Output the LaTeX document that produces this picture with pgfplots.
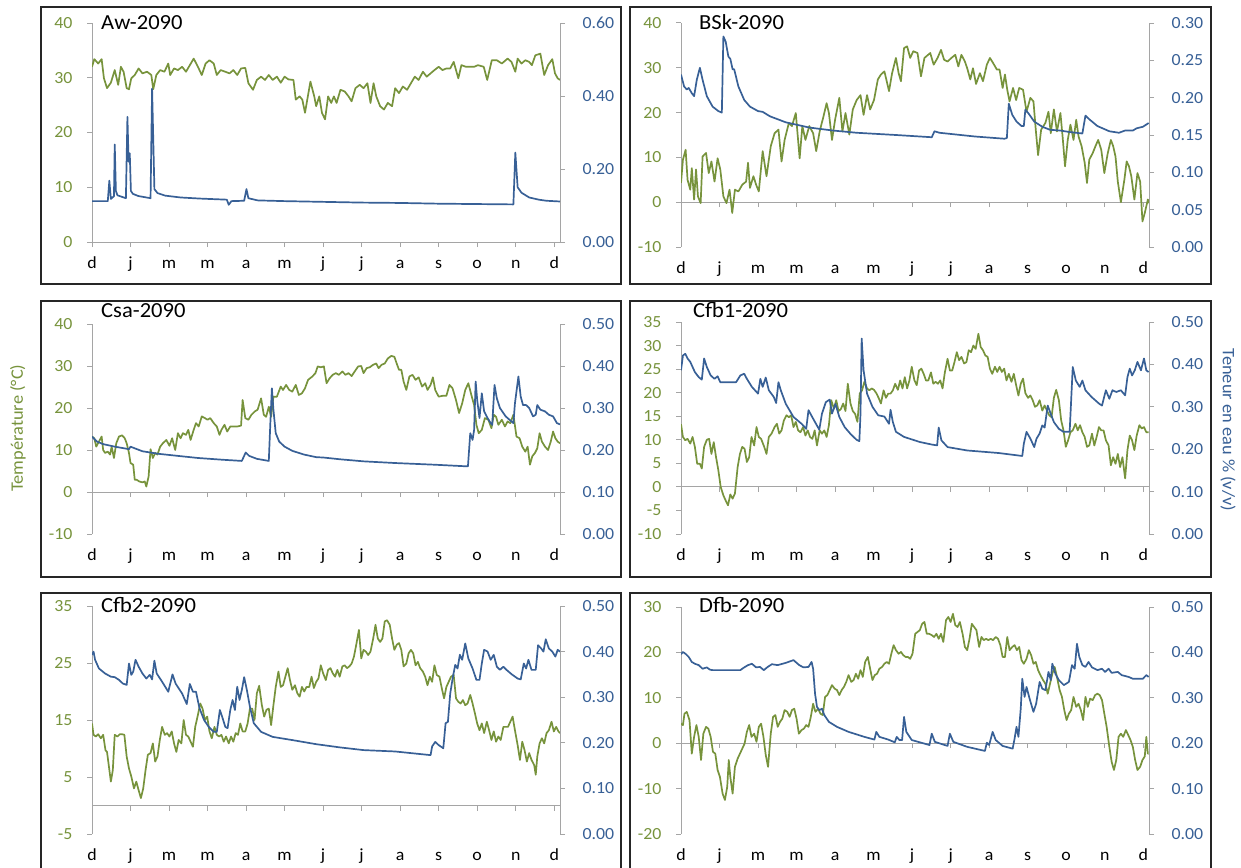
\documentclass[border=0pt]{standalone}
\usepackage{fontspec}
\setmainfont{Carlito}[FakeStretch=1.05]
\usepackage{pgfplots}
\pgfplotsset{compat=1.18}

\definecolor{tgreen}{RGB}{119,147,60}
\definecolor{wblue}{RGB}{56,96,150}
\definecolor{axgray}{RGB}{165,165,165}
\newcommand{\tickfont}{\fontsize{17}{20}\selectfont}
\newcommand{\titlefont}{\fontsize{21.5}{25}\selectfont}
\newcommand{\labfont}{\fontsize{17.5}{21}\selectfont}

\pgfplotsset{
  panelbase/.style={scale only axis, width=468pt, xmin=0, xmax=12.15, xtick={0,...,12},
    tick align=outside, major tick length=5pt,
    ticklabel style={font=\tickfont}, /pgf/number format/assume math mode=true},
  tempaxis/.style={panelbase, axis x line*=middle, axis y line*=left,
    xticklabels={}, hide obscured x ticks=false,
    axis line style={draw=axgray, line width=1pt, -},
    tick style={draw=axgray, line width=1pt},
    yticklabel style={text=tgreen, xshift=-11pt, /pgf/number format/fixed, /pgf/number format/precision=0}},
  wateraxis/.style={panelbase, ymin=0, axis x line*=bottom, axis y line*=right,
    x axis line style={draw=none, -}, y axis line style={draw=axgray, line width=1pt, -},
    xticklabels={d,j,m,m,a,m,j,j,a,s,o,n,d},
    x tick style={draw=none}, y tick style={draw=axgray, line width=1pt},
    xticklabel style={text height=11pt, text depth=3pt, yshift=-7pt},
    yticklabel style={text=wblue, xshift=14pt, /pgf/number format/fixed,
      /pgf/number format/fixed zerofill, /pgf/number format/precision=2},
    scaled y ticks=false},
  tline/.style={tgreen, line width=1.7pt, line join=round, mark=none},
  wline/.style={wblue, line width=1.7pt, line join=round, mark=none},
}
\tikzset{frame/.style={draw=black!85, line width=2pt},
  ptitle/.style={anchor=base west, inner sep=0pt, font=\titlefont}}

\begin{document}
\begin{tikzpicture}
\path[use as bounding box] (0pt,0pt) rectangle (1241pt,-867pt);

% ---------- frames
\draw[frame] (40.5pt,-7pt) rectangle (621pt,-284pt);
\draw[frame] (630pt,-7pt) rectangle (1211pt,-284pt);
\draw[frame] (40.5pt,-301pt) rectangle (621pt,-577pt);
\draw[frame] (630pt,-301pt) rectangle (1211pt,-577pt);
\draw[frame] (40.5pt,-593pt) rectangle (621pt,-880pt);
\draw[frame] (630pt,-593pt) rectangle (1211pt,-880pt);

% ---------- Aw-2090
\begin{axis}[tempaxis, at={(92pt,-242pt)}, anchor=south west, height=219pt,
  ymin=0, ymax=40, ytick={0,10,...,40}]
\addplot[tline] coordinates {(0.00,32.0)(0.06,33.4)(0.16,32.6)(0.25,33.4)(0.31,29.9)(0.39,28.1)(0.49,29.1)(0.59,31.4)(0.68,28.7)(0.75,32.0)(0.82,31.1)(0.90,28.1)(0.96,27.9)(1.02,29.9)(1.11,30.5)(1.21,31.7)(1.31,30.8)(1.43,31.1)(1.54,30.5)(1.59,27.9)(1.67,30.5)(1.77,31.4)(1.88,31.1)(1.98,32.6)(2.03,30.5)(2.13,31.7)(2.23,31.4)(2.34,32.0)(2.44,31.1)(2.54,32.3)(2.64,33.5)(2.75,32.0)(2.85,30.5)(2.95,32.6)(3.05,33.2)(3.16,32.6)(3.24,30.5)(3.34,31.4)(3.46,31.1)(3.57,30.8)(3.67,31.4)(3.77,30.5)(3.87,31.7)(3.98,31.8)(4.06,29.0)(4.18,27.8)(4.28,29.6)(4.39,30.2)(4.49,29.6)(4.59,30.5)(4.69,29.6)(4.80,30.2)(4.90,29.1)(5.00,30.2)(5.10,29.7)(5.23,29.6)(5.29,26.0)(5.39,26.6)(5.46,26.0)(5.53,23.6)(5.67,29.3)(5.77,26.6)(5.82,24.8)(5.90,26.6)(5.97,23.6)(6.05,22.4)(6.13,26.6)(6.21,25.4)(6.28,26.6)(6.35,25.4)(6.45,27.8)(6.56,27.5)(6.66,26.6)(6.74,25.7)(6.84,28.1)(6.95,28.7)(7.05,28.1)(7.15,29.0)(7.23,25.4)(7.31,29.0)(7.38,26.6)(7.48,24.8)(7.58,24.2)(7.68,25.4)(7.79,24.8)(7.87,28.1)(7.97,27.2)(8.07,28.4)(8.18,27.8)(8.28,29.0)(8.38,30.2)(8.48,29.6)(8.59,31.1)(8.69,30.2)(8.79,30.8)(8.89,31.4)(9.00,32.0)(9.10,31.4)(9.20,31.7)(9.30,31.7)(9.39,32.9)(9.51,29.9)(9.59,32.3)(9.71,32.0)(9.82,32.0)(9.92,32.0)(10.02,32.3)(10.17,32.0)(10.26,29.6)(10.38,33.2)(10.51,33.2)(10.64,32.6)(10.79,33.5)(10.89,32.9)(10.99,31.1)(11.05,33.5)(11.15,32.6)(11.25,33.2)(11.35,32.9)(11.42,32.3)(11.51,34.1)(11.64,34.4)(11.74,30.5)(11.84,32.3)(11.95,33.4)(12.02,30.8)(12.09,29.9)(12.15,29.6)};
\end{axis}
\begin{axis}[wateraxis, at={(92pt,-242pt)}, anchor=south west, height=219pt,
  ymax=0.6, ytick={0,0.2,0.4,0.6}]
\addplot[wline] coordinates {(0,0.112)(0.41,0.112)(0.45,0.168)(0.49,0.118)(0.53,0.122)(0.57,0.125)(0.59,0.267)(0.62,0.14)(0.66,0.128)(0.88,0.120)(0.92,0.343)(0.95,0.22)(0.98,0.243)(1.01,0.14)(1.06,0.132)(1.20,0.126)(1.52,0.120)(1.56,0.42)(1.62,0.145)(1.70,0.134)(1.90,0.127)(2.3,0.122)(2.8,0.119)(3.5,0.116)(3.55,0.102)(3.62,0.112)(3.95,0.113)(4.01,0.145)(4.06,0.12)(4.3,0.114)(5,0.112)(6,0.110)(7,0.108)(8,0.107)(9,0.105)(10.94,0.103)(10.99,0.245)(11.05,0.15)(11.15,0.135)(11.35,0.122)(11.6,0.116)(11.8,0.113)(12.15,0.111)};
\end{axis}
\node[ptitle] at (101pt,-29.5pt) {Aw-2090};

% ---------- BSk-2090
\begin{axis}[tempaxis, at={(681pt,-247pt)}, anchor=south west, height=224pt,
  ymin=-10, ymax=40, ytick={-10,0,...,40}]
\addplot[tline] coordinates {(0,4.3)(0.05,9.5)(0.12,11.7)(0.17,5.0)(0.24,2.8)(0.28,7.6)(0.34,0.6)(0.39,7.3)(0.44,1.3)(0.51,-0.2)(0.56,10.2)(0.65,11.0)(0.72,6.5)(0.79,9.1)(0.87,4.6)(0.95,9.8)(1.02,7.3)(1.10,1.3)(1.18,-0.2)(1.26,2.8)(1.33,-2.4)(1.40,2.8)(1.49,2.4)(1.59,3.9)(1.69,4.6)(1.74,8.8)(1.79,3.2)(1.88,5.8)(1.95,3.9)(2.02,2.4)(2.12,11.4)(2.22,5.8)(2.33,12.5)(2.43,15.4)(2.53,16.2)(2.61,9.1)(2.69,13.9)(2.80,17.7)(2.88,17.0)(2.98,19.9)(3.08,9.8)(3.15,17.0)(3.23,13.9)(3.33,17.0)(3.43,15.4)(3.51,11.4)(3.60,15.8)(3.70,19.2)(3.78,22.1)(3.84,19.9)(3.92,13.9)(4.00,18.4)(4.11,23.3)(4.19,15.8)(4.27,19.9)(4.37,15.1)(4.46,20.7)(4.56,22.8)(4.66,23.9)(4.74,19.5)(4.83,23.9)(4.91,20.7)(5.01,22.8)(5.11,27.4)(5.19,28.5)(5.28,29.2)(5.33,27.4)(5.40,24.8)(5.48,28.8)(5.58,32.2)(5.65,28.8)(5.71,27.0)(5.79,34.4)(5.87,34.8)(5.95,32.2)(6.03,33.7)(6.14,33.3)(6.23,28.1)(6.32,32.2)(6.47,33.3)(6.56,30.7)(6.66,32.2)(6.75,34.0)(6.83,31.8)(6.92,31.4)(7.02,32.2)(7.12,32.9)(7.20,30.3)(7.28,32.9)(7.37,31.4)(7.43,29.9)(7.51,27.4)(7.58,29.9)(7.66,26.4)(7.76,28.8)(7.84,27.0)(7.94,30.7)(8.02,32.2)(8.10,31.1)(8.20,29.6)(8.27,29.6)(8.35,25.5)(8.41,28.5)(8.47,25.1)(8.53,22.5)(8.62,25.5)(8.70,22.8)(8.78,25.5)(8.88,25.1)(8.97,20.2)(9.07,23.3)(9.15,22.5)(9.21,16.2)(9.27,10.5)(9.35,16.2)(9.46,17.7)(9.54,20.2)(9.60,15.4)(9.68,20.7)(9.76,15.8)(9.85,19.9)(9.91,14.3)(9.97,8.0)(10.04,13.9)(10.11,17.3)(10.19,13.9)(10.26,18.4)(10.32,14.7)(10.40,12.5)(10.48,8.8)(10.54,4.3)(10.60,9.5)(10.69,11.0)(10.76,12.5)(10.83,13.9)(10.91,11.7)(10.99,6.5)(11.08,11.0)(11.16,13.9)(11.22,12.5)(11.28,10.2)(11.34,4.6)(11.42,0.0)(11.51,5.0)(11.57,9.1)(11.63,8.0)(11.69,5.8)(11.77,0.6)(11.85,6.5)(11.92,4.6)(11.98,-4.3)(12.04,-2.4)(12.12,0.6)(12.15,-0.2)};
\end{axis}
\begin{axis}[wateraxis, at={(681pt,-247pt)}, anchor=south west, height=224pt,
  ymax=0.3, ytick={0,0.05,0.1,0.15,0.2,0.25,0.3}]
\addplot[wline] coordinates {(0,0.231)(0.08,0.215)(0.15,0.211)(0.20,0.213)(0.28,0.206)(0.34,0.202)(0.41,0.224)(0.49,0.240)(0.56,0.224)(0.67,0.202)(0.82,0.188)(0.97,0.182)(1.06,0.180)(1.10,0.282)(1.16,0.275)(1.23,0.255)(1.28,0.252)(1.34,0.238)(1.38,0.238)(1.49,0.215)(1.64,0.197)(1.79,0.188)(2.00,0.182)(2.12,0.181)(2.31,0.175)(2.72,0.167)(3.33,0.160)(3.94,0.156)(4.56,0.153)(5.58,0.150)(6.51,0.147)(6.58,0.155)(6.71,0.153)(7.63,0.148)(8.40,0.145)(8.46,0.146)(8.51,0.192)(8.60,0.177)(8.71,0.168)(8.84,0.162)(8.90,0.162)(8.94,0.184)(9.02,0.179)(9.17,0.168)(9.38,0.161)(9.58,0.157)(9.84,0.156)(10.09,0.154)(10.42,0.152)(10.50,0.176)(10.60,0.171)(10.81,0.162)(11.12,0.155)(11.37,0.153)(11.53,0.156)(11.73,0.156)(11.83,0.159)(11.99,0.161)(12.14,0.166)};
\end{axis}
\node[ptitle] at (699pt,-29.5pt) {BSk-2090};

% ---------- Csa-2090
\begin{axis}[tempaxis, at={(92pt,-534pt)}, anchor=south west, height=210pt,
  ymin=-10, ymax=40, ytick={-10,0,...,40}]
\addplot[tline] coordinates {(0,13.2)(0.06,12.8)(0.11,10.8)(0.18,12.0)(0.25,13.2)(0.29,10.0)(0.34,9.3)(0.41,9.6)(0.47,8.9)(0.51,10.8)(0.57,8.1)(0.63,11.6)(0.70,13.2)(0.78,13.5)(0.85,12.8)(0.90,11.6)(0.96,9.3)(1.00,6.9)(1.07,6.5)(1.11,2.9)(1.16,2.9)(1.23,2.5)(1.31,2.3)(1.37,2.5)(1.41,1.3)(1.47,3.7)(1.52,10.2)(1.58,8.1)(1.64,9.3)(1.70,8.9)(1.77,10.8)(1.84,11.6)(1.93,12.4)(2.01,11.0)(2.08,12.8)(2.16,10.0)(2.23,14.0)(2.30,12.8)(2.36,14.0)(2.44,13.6)(2.50,14.8)(2.56,12.4)(2.64,14.8)(2.70,16.4)(2.77,15.6)(2.85,18.0)(2.93,17.6)(3.00,17.2)(3.07,17.6)(3.16,16.4)(3.24,15.6)(3.31,13.6)(3.36,14.8)(3.44,16.0)(3.51,14.4)(3.59,15.6)(3.67,15.6)(3.77,15.6)(3.87,15.8)(3.91,21.9)(3.98,17.6)(4.06,17.2)(4.14,18.4)(4.23,19.2)(4.30,19.6)(4.39,22.3)(4.46,18.4)(4.52,17.9)(4.59,20.3)(4.65,17.9)(4.71,22.7)(4.80,22.7)(4.90,25.1)(4.96,24.3)(5.04,25.5)(5.12,24.3)(5.20,23.9)(5.29,25.5)(5.37,23.1)(5.45,23.5)(5.53,24.7)(5.61,26.7)(5.72,27.5)(5.80,28.3)(5.86,29.9)(5.94,29.7)(6.02,29.9)(6.09,25.9)(6.17,27.1)(6.25,27.9)(6.33,28.3)(6.41,27.9)(6.50,28.7)(6.58,27.9)(6.66,28.3)(6.74,27.6)(6.82,28.7)(6.91,29.9)(6.99,30.0)(7.05,28.3)(7.13,29.5)(7.21,29.7)(7.30,30.3)(7.38,30.6)(7.44,29.5)(7.52,30.3)(7.60,30.6)(7.68,31.8)(7.77,32.4)(7.85,32.2)(7.91,30.6)(7.97,29.1)(8.03,29.1)(8.09,26.3)(8.16,24.3)(8.24,27.5)(8.32,27.9)(8.40,26.7)(8.48,27.3)(8.57,25.1)(8.65,25.9)(8.71,24.3)(8.79,25.5)(8.85,27.3)(8.91,24.3)(9.00,22.7)(9.10,22.9)(9.20,22.9)(9.28,25.5)(9.36,24.7)(9.45,21.9)(9.53,18.8)(9.61,21.1)(9.69,24.3)(9.77,25.9)(9.86,22.7)(9.92,20.7)(9.98,16.0)(10.04,14.0)(10.12,14.8)(10.20,17.6)(10.29,17.2)(10.37,15.2)(10.43,18.4)(10.49,17.9)(10.55,16.0)(10.64,17.2)(10.72,15.6)(10.79,16.8)(10.86,16.4)(10.94,18.4)(11.02,13.2)(11.10,12.8)(11.17,10.8)(11.25,9.6)(11.31,10.8)(11.37,6.5)(11.43,8.5)(11.50,9.3)(11.56,10.4)(11.62,14.0)(11.68,12.0)(11.76,10.8)(11.84,10.0)(11.91,12.0)(11.97,14.4)(12.03,12.8)(12.09,12.0)(12.15,11.6)};
\end{axis}
\begin{axis}[wateraxis, at={(92pt,-534pt)}, anchor=south west, height=210pt,
  ymax=0.5, ytick={0,0.1,0.2,0.3,0.4,0.5}]
\addplot[wline] coordinates {(0,0.232)(0.13,0.220)(0.29,0.214)(0.59,0.208)(0.96,0.202)(1.00,0.208)(1.11,0.204)(1.31,0.197)(1.72,0.191)(2.23,0.186)(2.75,0.181)(3.36,0.177)(3.89,0.174)(3.99,0.194)(4.08,0.186)(4.28,0.179)(4.59,0.174)(4.63,0.264)(4.67,0.347)(4.71,0.296)(4.77,0.240)(4.86,0.220)(5.00,0.208)(5.20,0.198)(5.51,0.189)(5.82,0.183)(6.02,0.182)(6.43,0.178)(7.05,0.173)(7.87,0.169)(8.89,0.165)(9.76,0.161)(9.82,0.240)(9.88,0.224)(9.92,0.248)(9.96,0.363)(10.00,0.319)(10.06,0.276)(10.12,0.335)(10.18,0.292)(10.27,0.276)(10.35,0.264)(10.39,0.260)(10.45,0.355)(10.51,0.323)(10.59,0.300)(10.74,0.280)(10.89,0.268)(10.94,0.264)(10.98,0.311)(11.07,0.375)(11.13,0.327)(11.19,0.307)(11.27,0.307)(11.35,0.300)(11.45,0.280)(11.52,0.284)(11.56,0.307)(11.64,0.296)(11.76,0.292)(11.86,0.284)(11.97,0.280)(12.07,0.264)(12.15,0.261)};
\end{axis}
\node[ptitle] at (101pt,-317.5pt) {Csa-2090};

% ---------- Cfb1-2090
\begin{axis}[tempaxis, at={(681pt,-534pt)}, anchor=south west, height=212pt,
  ymin=-10, ymax=35, ytick={-10,-5,...,35}]
\addplot[tline] coordinates {(0,13.3)(0.05,10.6)(0.11,9.9)(0.17,10.2)(0.24,9.2)(0.30,10.6)(0.36,8.5)(0.42,4.9)(0.49,4.9)(0.54,3.9)(0.60,8.5)(0.67,10.0)(0.73,10.2)(0.79,7.0)(0.85,9.5)(0.91,6.3)(0.97,3.5)(1.03,0.0)(1.10,-1.8)(1.16,-2.9)(1.22,-3.9)(1.28,-1.6)(1.34,-2.5)(1.40,-1.4)(1.47,4.2)(1.53,7.0)(1.59,8.5)(1.65,8.1)(1.71,5.3)(1.77,6.3)(1.83,10.6)(1.90,8.8)(1.96,12.7)(2.02,10.6)(2.08,10.2)(2.16,8.5)(2.22,7.0)(2.28,10.6)(2.35,11.3)(2.43,12.7)(2.49,13.4)(2.55,11.3)(2.61,12.0)(2.67,14.1)(2.74,15.2)(2.80,14.8)(2.86,15.2)(2.92,12.7)(2.98,13.8)(3.04,12.0)(3.10,11.6)(3.17,12.7)(3.23,10.9)(3.29,12.0)(3.35,10.6)(3.41,10.2)(3.47,12.0)(3.53,8.8)(3.60,12.0)(3.66,11.3)(3.72,12.0)(3.78,10.6)(3.84,13.1)(3.90,18.4)(3.97,16.6)(4.03,18.4)(4.09,16.1)(4.15,16.5)(4.21,17.7)(4.27,16.1)(4.33,21.9)(4.40,17.7)(4.46,16.1)(4.52,15.5)(4.58,13.8)(4.64,19.8)(4.70,20.5)(4.76,22.3)(4.83,20.9)(4.89,20.5)(4.95,20.9)(5.01,20.6)(5.07,19.9)(5.13,18.9)(5.19,17.7)(5.26,20.5)(5.32,18.9)(5.38,19.8)(5.44,19.8)(5.50,20.5)(5.56,21.9)(5.63,20.6)(5.69,22.6)(5.75,20.9)(5.81,23.3)(5.87,20.9)(5.93,22.6)(5.99,25.5)(6.06,22.6)(6.12,21.6)(6.18,24.7)(6.24,25.1)(6.30,24.0)(6.36,22.6)(6.42,22.6)(6.49,24.3)(6.55,21.9)(6.61,22.3)(6.67,21.9)(6.73,22.6)(6.79,20.9)(6.85,24.3)(6.92,27.2)(6.98,24.7)(7.04,24.7)(7.10,26.5)(7.16,28.6)(7.22,26.9)(7.28,27.6)(7.35,26.2)(7.41,26.5)(7.47,29.0)(7.53,28.6)(7.59,30.0)(7.65,29.3)(7.72,32.5)(7.78,29.7)(7.84,29.0)(7.90,27.9)(7.96,27.6)(8.02,25.1)(8.08,24.0)(8.15,25.5)(8.21,24.4)(8.27,25.5)(8.33,24.4)(8.39,25.1)(8.45,22.6)(8.51,24.0)(8.58,22.3)(8.64,24.0)(8.70,21.6)(8.76,19.4)(8.82,21.9)(8.88,23.0)(8.94,19.9)(9.01,18.9)(9.07,19.4)(9.13,18.4)(9.19,17.0)(9.25,17.3)(9.31,18.4)(9.38,16.2)(9.44,17.3)(9.50,16.2)(9.56,15.2)(9.62,14.8)(9.68,18.9)(9.74,20.6)(9.81,18.4)(9.87,14.1)(9.93,12.0)(9.99,8.5)(10.05,9.9)(10.11,11.6)(10.17,12.0)(10.24,13.4)(10.30,12.0)(10.36,13.1)(10.42,11.6)(10.48,10.6)(10.54,8.5)(10.60,8.8)(10.67,11.3)(10.73,8.8)(10.79,10.6)(10.85,12.7)(10.91,12.0)(10.97,12.0)(11.03,9.9)(11.10,8.8)(11.16,4.6)(11.22,6.3)(11.28,4.9)(11.34,7.0)(11.40,4.2)(11.46,6.3)(11.53,1.8)(11.59,7.8)(11.65,10.9)(11.71,9.9)(11.77,7.8)(11.83,10.9)(11.90,13.1)(11.96,12.4)(12.02,12.7)(12.08,11.6)(12.14,11.6)};
\end{axis}
\begin{axis}[wateraxis, at={(681pt,-534pt)}, anchor=south west, height=212pt,
  ymax=0.5, ytick={0,0.1,0.2,0.3,0.4,0.5}]
\addplot[wline] coordinates {(0,0.386)(0.05,0.421)(0.11,0.425)(0.17,0.414)(0.24,0.406)(0.36,0.382)(0.46,0.370)(0.54,0.364)(0.60,0.414)(0.67,0.394)(0.77,0.374)(0.87,0.366)(0.95,0.372)(1.02,0.358)(1.23,0.358)(1.43,0.358)(1.54,0.374)(1.64,0.378)(1.71,0.366)(1.84,0.347)(2.00,0.331)(2.06,0.366)(2.12,0.347)(2.20,0.369)(2.28,0.339)(2.41,0.323)(2.47,0.309)(2.53,0.358)(2.59,0.339)(2.72,0.307)(2.92,0.276)(3.13,0.260)(3.25,0.248)(3.31,0.292)(3.43,0.272)(3.59,0.246)(3.66,0.284)(3.76,0.311)(3.86,0.317)(3.92,0.284)(4.01,0.307)(4.11,0.276)(4.25,0.252)(4.41,0.235)(4.56,0.222)(4.63,0.219)(4.66,0.284)(4.69,0.461)(4.74,0.386)(4.83,0.331)(4.97,0.300)(5.12,0.280)(5.28,0.277)(5.40,0.260)(5.44,0.293)(5.50,0.264)(5.58,0.241)(5.79,0.229)(6.20,0.217)(6.51,0.211)(6.65,0.209)(6.69,0.251)(6.76,0.221)(6.92,0.205)(7.43,0.197)(8.25,0.191)(8.86,0.184)(8.90,0.213)(8.97,0.241)(9.07,0.225)(9.17,0.205)(9.23,0.225)(9.31,0.237)(9.38,0.256)(9.44,0.251)(9.52,0.303)(9.58,0.288)(9.68,0.264)(9.81,0.248)(9.93,0.241)(10.09,0.241)(10.17,0.394)(10.25,0.362)(10.35,0.347)(10.42,0.362)(10.50,0.339)(10.66,0.323)(10.86,0.307)(10.93,0.303)(11.03,0.339)(11.12,0.319)(11.20,0.339)(11.30,0.335)(11.42,0.339)(11.53,0.327)(11.59,0.370)(11.65,0.390)(11.71,0.374)(11.78,0.386)(11.85,0.406)(11.94,0.386)(12.02,0.414)(12.08,0.386)(12.14,0.382)};
\end{axis}
\node[ptitle] at (693pt,-317.5pt) {Cfb1-2090};

% ---------- Cfb2-2090
\begin{axis}[tempaxis, at={(92pt,-834pt)}, anchor=south west, height=228pt,
  ymin=-5, ymax=35, ytick={-5,5,...,35}]
\addplot[tline] coordinates {(0,14.4)(0.04,12.4)(0.10,12.1)(0.16,12.5)(0.23,11.8)(0.29,12.4)(0.35,9.7)(0.39,9.4)(0.44,6.8)(0.49,4.2)(0.54,6.2)(0.59,12.4)(0.66,12.1)(0.72,12.5)(0.78,12.5)(0.84,12.4)(0.90,8.6)(0.96,6.5)(1.02,5.1)(1.09,3.0)(1.15,4.2)(1.21,2.7)(1.27,1.3)(1.33,3.0)(1.39,6.2)(1.45,8.9)(1.52,9.2)(1.58,10.9)(1.64,7.7)(1.70,8.6)(1.76,11.5)(1.82,13.8)(1.89,12.4)(1.95,12.7)(2.01,12.1)(2.07,13.0)(2.13,10.9)(2.19,9.4)(2.25,11.5)(2.32,10.9)(2.38,15.0)(2.44,12.4)(2.50,12.1)(2.56,11.2)(2.62,10.3)(2.68,13.8)(2.75,15.9)(2.81,17.9)(2.87,17.0)(2.93,15.0)(2.99,15.6)(3.05,13.0)(3.11,11.8)(3.18,13.8)(3.24,12.4)(3.30,12.1)(3.36,12.4)(3.42,11.2)(3.48,12.1)(3.55,10.9)(3.61,12.1)(3.67,11.2)(3.73,12.7)(3.79,12.4)(3.85,14.4)(3.91,13.0)(3.98,13.0)(4.04,14.4)(4.10,17.0)(4.16,17.0)(4.22,15.0)(4.28,19.7)(4.34,21.0)(4.41,17.6)(4.47,15.6)(4.53,16.8)(4.59,17.0)(4.65,14.1)(4.71,17.6)(4.77,20.8)(4.84,23.5)(4.90,20.8)(4.96,21.1)(5.02,22.6)(5.08,24.1)(5.14,22.0)(5.20,20.3)(5.27,21.1)(5.33,19.7)(5.39,19.1)(5.45,20.8)(5.51,20.0)(5.57,20.8)(5.64,20.8)(5.70,22.6)(5.76,20.6)(5.82,21.7)(5.88,22.3)(5.94,24.6)(6.00,23.2)(6.07,22.0)(6.13,23.8)(6.19,24.1)(6.25,23.2)(6.31,22.6)(6.37,23.8)(6.43,22.6)(6.50,24.4)(6.56,24.6)(6.62,24.1)(6.68,24.4)(6.74,24.9)(6.80,26.1)(6.86,28.2)(6.93,30.8)(6.99,25.8)(7.05,27.3)(7.11,27.0)(7.17,26.4)(7.23,27.0)(7.30,29.3)(7.36,31.7)(7.42,29.3)(7.48,28.7)(7.54,29.3)(7.60,32.3)(7.66,32.5)(7.73,31.7)(7.79,29.3)(7.85,27.3)(7.91,28.2)(7.97,28.5)(8.03,27.3)(8.09,24.4)(8.16,24.9)(8.22,26.7)(8.28,27.3)(8.34,26.7)(8.40,24.6)(8.46,25.2)(8.52,24.1)(8.59,23.5)(8.65,22.6)(8.71,21.1)(8.77,22.6)(8.83,21.7)(8.89,24.6)(8.95,22.9)(9.02,22.6)(9.08,20.6)(9.14,18.8)(9.20,20.8)(9.26,21.7)(9.32,22.6)(9.39,22.9)(9.45,18.8)(9.51,18.2)(9.57,17.9)(9.63,18.5)(9.69,17.6)(9.75,17.9)(9.82,19.4)(9.88,17.9)(9.94,16.2)(10.00,14.4)(10.06,13.2)(10.12,14.4)(10.18,12.7)(10.25,14.7)(10.31,13.2)(10.37,11.5)(10.43,13.0)(10.49,11.2)(10.55,12.1)(10.61,11.5)(10.68,13.8)(10.74,13.8)(10.80,13.8)(10.86,14.7)(10.92,15.6)(10.98,13.2)(11.05,10.6)(11.11,8.0)(11.17,11.2)(11.23,9.7)(11.29,7.7)(11.35,9.2)(11.41,8.0)(11.48,7.1)(11.52,5.4)(11.56,8.6)(11.62,10.9)(11.68,11.8)(11.74,10.9)(11.80,12.7)(11.86,13.2)(11.93,14.7)(11.99,13.0)(12.05,13.8)(12.11,13.0)(12.15,12.7)};
\end{axis}
\begin{axis}[wateraxis, at={(92pt,-834pt)}, anchor=south west, height=228pt,
  ymax=0.5, ytick={0,0.1,0.2,0.3,0.4,0.5}]
\addplot[wline] coordinates {(0,0.393)(0.04,0.400)(0.08,0.382)(0.18,0.363)(0.34,0.352)(0.49,0.345)(0.59,0.344)(0.70,0.338)(0.80,0.330)(0.90,0.327)(0.96,0.374)(1.02,0.349)(1.07,0.356)(1.13,0.382)(1.21,0.367)(1.31,0.352)(1.41,0.341)(1.50,0.349)(1.56,0.339)(1.62,0.380)(1.68,0.352)(1.82,0.334)(1.98,0.312)(2.09,0.350)(2.17,0.330)(2.34,0.308)(2.46,0.285)(2.54,0.329)(2.62,0.312)(2.70,0.312)(2.79,0.276)(2.91,0.250)(3.03,0.235)(3.16,0.224)(3.24,0.224)(3.32,0.272)(3.38,0.257)(3.46,0.235)(3.52,0.232)(3.59,0.272)(3.65,0.294)(3.71,0.272)(3.77,0.323)(3.83,0.294)(3.89,0.316)(3.95,0.344)(4.02,0.316)(4.10,0.279)(4.20,0.243)(4.39,0.224)(4.69,0.213)(5.20,0.206)(5.82,0.197)(6.43,0.190)(7.05,0.184)(7.87,0.181)(8.79,0.173)(8.83,0.192)(8.91,0.202)(9.00,0.195)(9.12,0.188)(9.18,0.243)(9.24,0.246)(9.30,0.308)(9.37,0.345)(9.43,0.371)(9.49,0.363)(9.55,0.393)(9.61,0.382)(9.69,0.418)(9.77,0.385)(9.88,0.363)(9.98,0.338)(10.06,0.338)(10.12,0.374)(10.18,0.404)(10.27,0.400)(10.35,0.382)(10.43,0.393)(10.51,0.367)(10.59,0.360)(10.68,0.367)(10.76,0.360)(10.90,0.350)(11.05,0.341)(11.13,0.339)(11.21,0.374)(11.27,0.363)(11.33,0.382)(11.41,0.360)(11.52,0.360)(11.58,0.414)(11.66,0.407)(11.72,0.400)(11.78,0.427)(11.86,0.407)(11.95,0.400)(12.03,0.389)(12.09,0.404)(12.15,0.400)};
\end{axis}
\node[ptitle] at (101pt,-612.3pt) {Cfb2-2090};

% ---------- Dfb-2090
\begin{axis}[tempaxis, at={(681pt,-834pt)}, anchor=south west, height=227pt,
  ymin=-20, ymax=30, ytick={-20,-10,...,30}]
\addplot[tline] coordinates {(0,4.3)(0.05,4.0)(0.09,6.5)(0.15,6.9)(0.22,5.1)(0.28,-2.3)(0.34,1.4)(0.40,4.0)(0.46,1.4)(0.52,-3.7)(0.58,2.1)(0.65,3.6)(0.71,3.2)(0.77,1.4)(0.83,-1.9)(0.89,-2.3)(0.95,-5.9)(1.01,-7.4)(1.08,-11.1)(1.14,-12.5)(1.20,-9.6)(1.24,-3.7)(1.28,-7.4)(1.34,-11.1)(1.40,-5.2)(1.47,-3.4)(1.53,-2.3)(1.59,-1.2)(1.65,-0.1)(1.71,2.5)(1.77,4.0)(1.83,1.4)(1.90,2.1)(1.96,0.3)(2.02,3.6)(2.08,4.3)(2.14,1.4)(2.20,-2.6)(2.26,-5.2)(2.33,2.1)(2.39,5.8)(2.45,6.2)(2.51,3.6)(2.57,4.7)(2.63,5.4)(2.69,7.3)(2.76,6.9)(2.82,5.8)(2.88,7.3)(2.94,7.6)(3.00,5.4)(3.06,2.1)(3.13,2.9)(3.19,3.2)(3.25,4.0)(3.31,3.6)(3.37,5.8)(3.43,8.7)(3.49,6.9)(3.56,7.6)(3.62,6.5)(3.68,6.2)(3.74,10.2)(3.80,10.6)(3.86,11.7)(3.92,12.8)(3.99,12.0)(4.05,11.7)(4.11,10.6)(4.17,11.7)(4.23,12.4)(4.29,13.5)(4.35,15.0)(4.42,13.5)(4.48,13.9)(4.54,15.3)(4.60,14.2)(4.66,16.1)(4.72,14.6)(4.78,17.9)(4.85,19.0)(4.91,16.4)(4.97,13.9)(5.03,15.0)(5.09,15.3)(5.15,16.4)(5.22,16.8)(5.28,17.5)(5.34,17.9)(5.40,17.5)(5.46,19.7)(5.52,21.6)(5.58,20.5)(5.65,19.7)(5.71,20.1)(5.77,19.4)(5.83,19.0)(5.89,19.0)(5.95,18.6)(6.01,19.7)(6.08,24.1)(6.14,24.5)(6.20,24.9)(6.26,26.3)(6.32,26.7)(6.38,24.1)(6.44,24.1)(6.51,23.8)(6.57,23.4)(6.63,24.1)(6.69,23.0)(6.75,24.1)(6.81,22.3)(6.88,27.1)(6.94,27.8)(7.00,26.7)(7.06,28.5)(7.12,26.0)(7.18,25.6)(7.24,26.7)(7.31,24.1)(7.37,21.2)(7.43,20.5)(7.49,23.0)(7.55,26.3)(7.61,25.6)(7.67,24.9)(7.74,21.2)(7.80,23.4)(7.86,22.7)(7.92,23.0)(7.98,22.7)(8.04,23.0)(8.10,22.7)(8.17,23.4)(8.23,23.0)(8.29,21.6)(8.35,19.0)(8.41,19.0)(8.47,23.4)(8.53,20.5)(8.60,21.2)(8.66,21.6)(8.72,20.5)(8.78,21.2)(8.84,18.3)(8.90,17.5)(8.97,18.6)(9.03,20.5)(9.09,19.4)(9.15,17.5)(9.21,17.9)(9.27,16.1)(9.33,15.0)(9.40,13.9)(9.46,13.1)(9.52,10.9)(9.58,13.1)(9.64,15.3)(9.70,16.8)(9.76,14.6)(9.83,11.7)(9.89,10.2)(9.95,7.3)(10.01,5.1)(10.07,6.5)(10.13,7.3)(10.19,10.2)(10.26,8.0)(10.32,8.7)(10.38,7.3)(10.44,5.1)(10.50,10.2)(10.56,8.0)(10.62,9.8)(10.69,9.5)(10.75,10.6)(10.81,10.9)(10.87,10.6)(10.93,9.5)(10.99,6.5)(11.05,3.6)(11.12,-0.8)(11.18,-4.1)(11.24,-5.9)(11.30,-3.7)(11.36,1.4)(11.42,2.1)(11.48,1.4)(11.55,2.9)(11.61,1.8)(11.67,0.7)(11.73,-0.8)(11.79,-3.7)(11.85,-5.9)(11.92,-5.2)(11.98,-3.7)(12.04,-2.9)(12.08,1.4)(12.12,-2.3)(12.14,-2.3)};
\end{axis}
\begin{axis}[wateraxis, at={(681pt,-834pt)}, anchor=south west, height=227pt,
  ymax=0.5, ytick={0,0.1,0.2,0.3,0.4,0.5}]
\addplot[wline] coordinates {(0,0.396)(0.05,0.401)(0.13,0.396)(0.20,0.390)(0.28,0.379)(0.36,0.375)(0.46,0.372)(0.56,0.364)(0.67,0.367)(0.75,0.362)(0.82,0.361)(1.08,0.361)(1.54,0.361)(1.64,0.367)(1.74,0.372)(1.84,0.375)(1.95,0.367)(2.05,0.368)(2.15,0.361)(2.25,0.368)(2.36,0.374)(2.51,0.372)(2.72,0.377)(2.92,0.383)(3.07,0.372)(3.18,0.367)(3.31,0.368)(3.39,0.379)(3.43,0.364)(3.48,0.309)(3.53,0.280)(3.59,0.273)(3.66,0.276)(3.72,0.262)(3.84,0.247)(4.05,0.236)(4.35,0.225)(4.76,0.214)(5.02,0.208)(5.07,0.225)(5.15,0.214)(5.38,0.208)(5.55,0.202)(5.60,0.214)(5.67,0.207)(5.74,0.207)(5.79,0.258)(5.85,0.225)(5.99,0.207)(6.45,0.196)(6.51,0.221)(6.59,0.203)(6.92,0.194)(6.98,0.221)(7.07,0.203)(7.43,0.192)(7.89,0.183)(7.94,0.201)(8.00,0.196)(8.09,0.225)(8.17,0.207)(8.35,0.194)(8.61,0.188)(8.66,0.210)(8.71,0.236)(8.76,0.214)(8.82,0.276)(8.86,0.342)(8.92,0.302)(8.97,0.324)(9.05,0.298)(9.15,0.269)(9.22,0.287)(9.31,0.335)(9.38,0.320)(9.46,0.317)(9.54,0.357)(9.60,0.339)(9.64,0.375)(9.72,0.353)(9.81,0.339)(9.94,0.328)(10.07,0.335)(10.15,0.372)(10.22,0.364)(10.28,0.419)(10.34,0.390)(10.42,0.372)(10.50,0.368)(10.58,0.379)(10.67,0.367)(10.81,0.361)(10.93,0.364)(11.01,0.357)(11.10,0.364)(11.18,0.355)(11.34,0.357)(11.44,0.350)(11.62,0.346)(11.73,0.342)(11.99,0.342)(12.08,0.350)(12.14,0.346)};
\end{axis}
\node[ptitle] at (699pt,-612.3pt) {Dfb-2090};

% ---------- axis titles
\node[rotate=90, text=tgreen, font=\labfont] at (18pt,-428pt) {Température (°C)};
\node[rotate=-90, text=wblue, font=\labfont] at (1228pt,-430pt) {Teneur en eau \% (v/v)};
\end{tikzpicture}
\end{document}
